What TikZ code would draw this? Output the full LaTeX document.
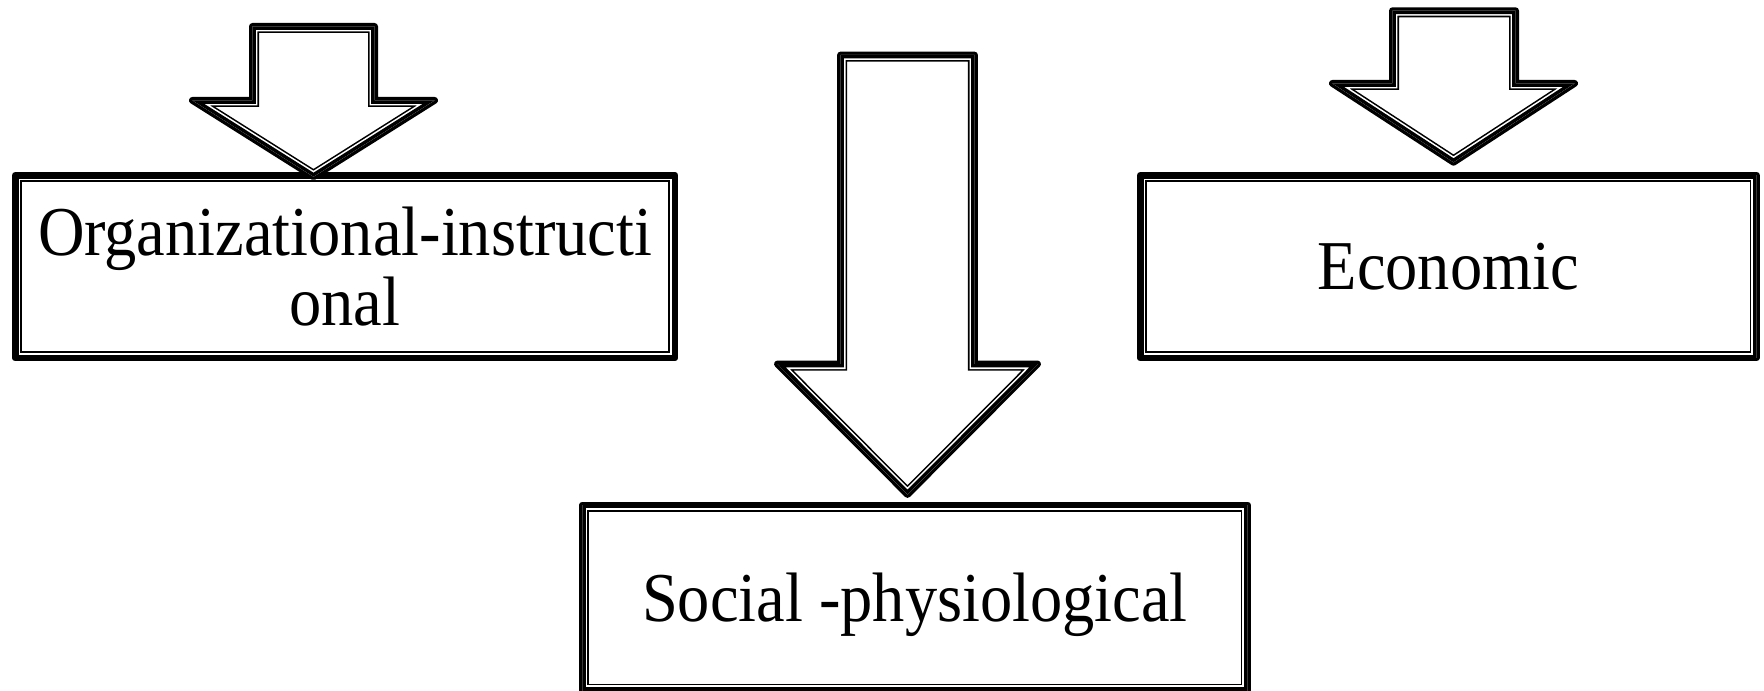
\documentclass[tikz,border=0pt]{standalone}
\usepackage{fontspec}
\setmainfont{Liberation Serif}[FakeStretch=0.92]
\tikzset{
  boxtext/.style={inner sep=0pt, align=center, font=\fontsize{35}{35}\selectfont},
  outerline/.style={line width=3.4pt, line join=round, line cap=round},
}
\newcommand\dshape[1]{%
  \draw[outerline] #1 -- cycle;
  \begin{scope}
    \clip #1 -- cycle;
    \draw[line width=6.6pt, line join=miter] #1 -- cycle;
    \draw[white, line width=5pt, line join=miter] #1 -- cycle;
    \draw[line width=3.4pt, line join=miter] #1 -- cycle;
  \end{scope}}
\begin{document}
\begin{tikzpicture}[x=0.5pt,y=-0.5pt]
\fill[white] (0,0) rectangle (1764,690);
\useasboundingbox (0,0) rectangle (1764,690);
% boxes
\node[boxtext, minimum width=329.5pt, minimum height=91pt] (org) at (345,266.5) {Organizational-instructi\\onal};
\node[boxtext, minimum width=307.75pt, minimum height=91pt] (eco) at (1448.25,266.5) {Economic};
\node[boxtext, text depth=0pt, minimum width=332.15pt, minimum height=92.3pt] (soc) at (914.85,597.7) {Social -physiological};
\dshape{(org.north west) -- (org.north east) -- (org.south east) -- (org.south west)}
\dshape{(eco.north west) -- (eco.north east) -- (eco.south east) -- (eco.south west)}
\dshape{(soc.north west) -- (soc.north east) -- (soc.south east) -- (soc.south west)}
% arrows
\coordinate (ta) at (313.5,176.7);
\coordinate (tb) at (907.5,494.5);
\coordinate (tc) at (1453.5,162.3);
\dshape{(252.4,26.4) -- (374.6,26.4) -- (374.6,100.4) -- (434.6,100.4) -- (ta) -- (192.4,100.4) -- (252.4,100.4)}
\dshape{(840.5,55) -- (974.5,55) -- (974.5,364) -- (1037.5,364) -- (tb) -- (777.5,364) -- (840.5,364)}
\dshape{(1392.4,10.7) -- (1515.6,10.7) -- (1515.6,83.4) -- (1574.6,83.4) -- (tc) -- (1332.4,83.4) -- (1392.4,83.4)}
\end{tikzpicture}
\end{document}
